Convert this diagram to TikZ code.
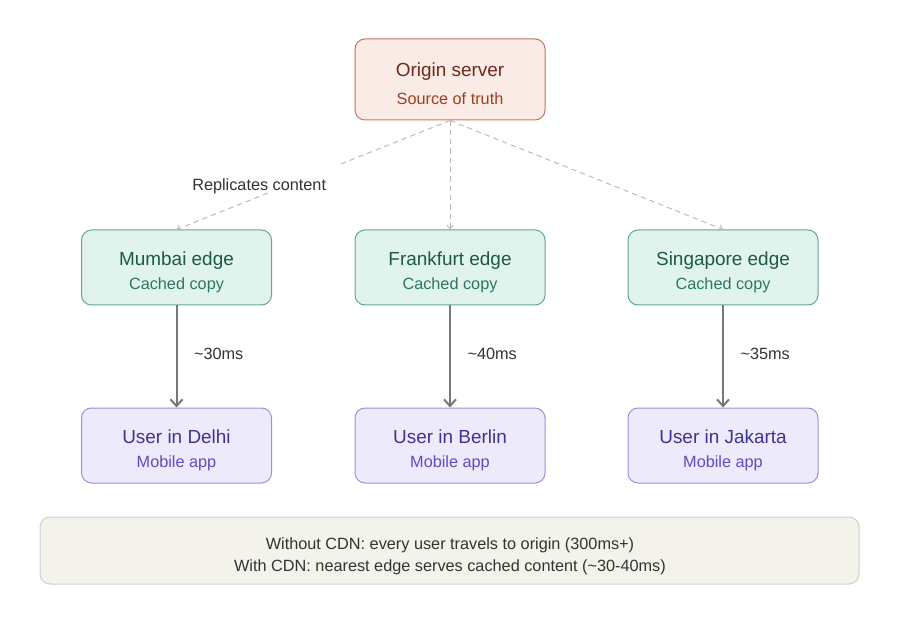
\documentclass[tikz,border=0pt]{standalone}
\usepackage{fontspec}
\setmainfont{Liberation Sans}
\usetikzlibrary{arrows.meta}
\definecolor{orgfill}{HTML}{FAEBE6}
\definecolor{orgdraw}{HTML}{C8765A}
\definecolor{orgtitle}{HTML}{6E2A18}
\definecolor{orgsub}{HTML}{A23E1C}
\definecolor{edgefill}{HTML}{E0F3EC}
\definecolor{edgedraw}{HTML}{62A88C}
\definecolor{edgetitle}{HTML}{1C5A42}
\definecolor{edgesub}{HTML}{2A7A5A}
\definecolor{userfill}{HTML}{EDEBFB}
\definecolor{userdraw}{HTML}{9A90D8}
\definecolor{usertitle}{HTML}{3C3490}
\definecolor{usersub}{HTML}{5A4EC2}
\definecolor{notefill}{HTML}{F3F3EC}
\definecolor{notedraw}{HTML}{CFCFC6}
\definecolor{txt}{HTML}{333333}
\definecolor{dashc}{HTML}{BBBBBB}
\definecolor{arrc}{HTML}{777777}
\tikzset{
  box/.style={rounded corners=7.5pt, minimum width=142.5pt, minimum height=56.25pt, line width=0.75pt, inner sep=0pt},
  orgbox/.style={box, minimum height=60.75pt, fill=orgfill, draw=orgdraw},
  edgebox/.style={box, fill=edgefill, draw=edgedraw},
  userbox/.style={box, fill=userfill, draw=userdraw},
  ttl/.style={inner sep=0pt, font=\fontsize{14.2}{17}\selectfont},
  sbt/.style={inner sep=0pt, font=\fontsize{12.2}{14.5}\selectfont},
  orgtitle/.style={ttl, text=orgtitle}, orgsub/.style={sbt, text=orgsub},
  edgetitle/.style={ttl, text=edgetitle}, edgesub/.style={sbt, text=edgesub},
  usertitle/.style={ttl, text=usertitle}, usersub/.style={sbt, text=usersub},
  repl/.style={dashc, dash pattern=on 4pt off 3pt, line width=0.75pt, -{Straight Barb[length=2.5pt,width=4.5pt]}},
  lat/.style={arrc, line width=1.5pt, -{Straight Barb[length=5pt,width=9pt]}},
  lbl/.style={text=txt, inner sep=0pt, font=\fontsize{12.2}{14.5}\selectfont}
}
\newcommand{\mkbox}[7]{%
  \node[#2box] (#1) at (#3) {};
  \node[#2title, anchor=base] (#1t) at ([yshift=#6]#1.center) {#4};
  \node[#2sub, anchor=base] (#1s) at ([yshift=#7]#1.center) {#5};}
\begin{document}
\begin{tikzpicture}[x=0.75pt,y=-0.75pt]
\useasboundingbox (0,0) rectangle (900,620);
\mkbox{origin}{org}{450,79.5}{Origin server}{Source of truth}{2.25pt}{-18.4pt}
\mkbox{mumbai}{edge}{176.5,267.5}{Mumbai edge}{Cached copy}{1.35pt}{-16.35pt}
\mkbox{frank}{edge}{450,267.5}{Frankfurt edge}{Cached copy}{1.35pt}{-16.35pt}
\mkbox{sing}{edge}{723,267.5}{Singapore edge}{Cached copy}{1.35pt}{-16.35pt}
\mkbox{delhi}{user}{176.5,445.5}{User in Delhi}{Mobile app}{1.35pt}{-16.35pt}
\mkbox{berlin}{user}{450,445.5}{User in Berlin}{Mobile app}{1.35pt}{-16.35pt}
\mkbox{jakarta}{user}{723,445.5}{User in Jakarta}{Mobile app}{1.35pt}{-16.35pt}
\node[rounded corners=7.5pt, fill=notefill, draw=notedraw, line width=0.75pt, minimum width=614.25pt, minimum height=50.25pt, inner sep=0pt] (note) at (449.5,550.5) {};
\node[lbl, anchor=base] (note1) at (450,549) {Without CDN: every user travels to origin (300ms+)};
\node[lbl, anchor=base] (note2) at (450,571.7) {With CDN: nearest edge serves cached content (\char`\~30-40ms)};
\draw[repl] (origin.south) -- (mumbai.north);
\draw[repl] (origin.south) -- (frank.north);
\draw[repl] (origin.south) -- (sing.north);
\node[fill=white, inner sep=0pt, minimum width=118pt, minimum height=21pt] (rlbg) at (259,179) {};
\node[lbl, anchor=base west] (rl) at (192,190.7) {Replicates content};
\draw[lat] (mumbai) -- (delhi) node[pos=0.5, lbl, anchor=base west, xshift=12.4pt, yshift=-2.1pt] (l1) {\char`\~30ms};
\draw[lat] (frank) -- (berlin) node[pos=0.5, lbl, anchor=base west, xshift=12.4pt, yshift=-2.1pt] (l2) {\char`\~40ms};
\draw[lat] (sing) -- (jakarta) node[pos=0.5, lbl, anchor=base west, xshift=12.4pt, yshift=-2.1pt] (l3) {\char`\~35ms};
\end{tikzpicture}
\end{document}
